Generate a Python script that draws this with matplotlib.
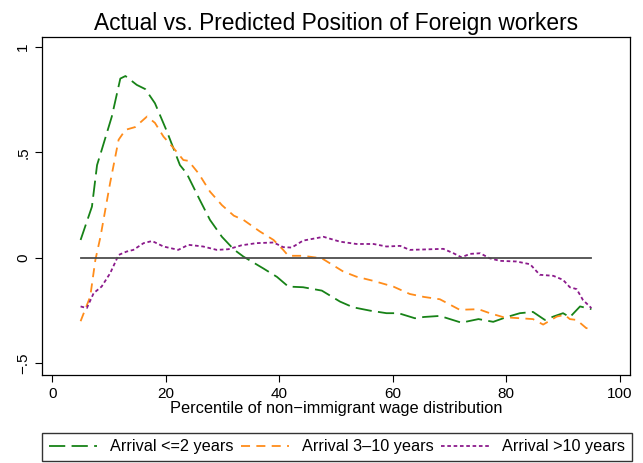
import matplotlib
matplotlib.use("Agg")
import matplotlib.pyplot as plt

plt.rcParams['font.family'] = ['Liberation Sans', 'DejaVu Sans']

# Arrival <=2 years
x_new = [5, 7, 7.9, 8.7, 10.5, 12, 12.9, 14.9, 16.4, 18.1, 20.2, 22.5, 23.7, 26, 27.8, 29.9,
         32, 33.7, 37.2, 39.6, 41.6, 44.2, 47.5, 50.7, 53, 56, 58.9, 61, 63.9, 65.5,
         68.3, 72.1, 75.1, 77.7, 80, 82.4, 84.7, 86.8, 88.3, 90, 91.2, 93, 95]
y_new = [0.085, 0.243, 0.44, 0.51, 0.67, 0.85, 0.862, 0.82, 0.80, 0.733, 0.60, 0.44, 0.40, 0.275, 0.18, 0.10,
         0.04, 0.006, -0.05, -0.09, -0.136, -0.139, -0.155, -0.207, -0.234, -0.25, -0.262, -0.262, -0.286, -0.28,
         -0.275, -0.307, -0.29, -0.303, -0.281, -0.262, -0.256, -0.294, -0.278, -0.262, -0.281, -0.23, -0.243]

# Arrival 3-10 years
x_mid = [5, 6.7, 7.6, 8.5, 10.2, 11.7, 12.9, 14.6, 16.7, 18.1, 19.6, 21.4, 23.1, 24, 25.8, 27.8, 29.9,
         32, 33.7, 36.6, 39, 40.7, 41.6, 44.2, 47.5, 48.9, 51.3, 53.6, 56.6, 60.1, 63, 65.5,
         68.3, 71.8, 75.1, 77.1, 79.5, 82.4, 84.7, 86.5, 88.9, 90.3, 91.2, 92.4, 94.1, 95]
y_mid = [-0.30, -0.183, -0.01, 0.10, 0.355, 0.56, 0.607, 0.62, 0.67, 0.64, 0.575, 0.52, 0.464, 0.46, 0.40, 0.314, 0.25,
         0.2, 0.18, 0.125, 0.085, 0.038, 0.01, 0.01, -0.002, -0.025, -0.065, -0.089, -0.109, -0.136, -0.171, -0.185,
         -0.196, -0.246, -0.243, -0.262, -0.281, -0.286, -0.29, -0.316, -0.278, -0.27, -0.29, -0.294, -0.333, -0.333]

# Arrival >10 years
x_old = [5, 6.1, 7.3, 8.7, 10.2, 11.7, 13.1, 14.3, 16.1, 17.6, 19.6, 22.2, 24, 26.6, 29, 31,
         33.4, 36, 39, 40.7, 42.2, 44.2, 47.8, 50.7, 53.6, 56.6, 58.9, 61.3, 63, 65.5,
         68.9, 70.7, 72.1, 73.6, 75.4, 77.1, 78.9, 81.8, 84.2, 85.9, 88.3, 90, 91.2, 92.4, 93.5, 95]
y_old = [-0.23, -0.238, -0.167, -0.136, -0.073, 0.014, 0.03, 0.038, 0.07, 0.08, 0.054, 0.038, 0.062, 0.054, 0.038, 0.041,
         0.06, 0.07, 0.073, 0.051, 0.049, 0.082, 0.10, 0.077, 0.066, 0.066, 0.054, 0.057, 0.038, 0.04,
         0.043, 0.022, 0.003, 0.019, 0.022, -0.002, -0.014, -0.017, -0.03, -0.08, -0.085, -0.104, -0.139, -0.148, -0.199, -0.238]

x_ticks = [0, 20, 40, 60, 80, 100]
y_ticks = [-0.5, 0, 0.5, 1]
y_tick_labels = ['\u2212.5', '0', '.5', '1']

fig = plt.figure(figsize=(6.43, 4.63), dpi=100)
ax = fig.add_axes([42 / 643, 1 - 375 / 463, 588 / 643, 338 / 463])

ax.plot(x_new, y_new, color='#178217', linewidth=1.3, dashes=(9, 3.5), label='Arrival <=2 years')
ax.plot(x_mid, y_mid, color='#ff8c1a', linewidth=1.3, dashes=(5, 3.5), label='Arrival 3\u201310 years')
ax.plot(x_old, y_old, color='#8b1a8b', linewidth=1.3, dashes=(2, 1.5), label='Arrival >10 years')
ax.plot([5, 95], [0, 0], color='#4d4d4d', linewidth=1.3)

ax.set_xlim(-1.8, 101.8)
ax.set_ylim(-0.555, 1.047)
ax.set_xticks(x_ticks)
ax.set_yticks(y_ticks)
ax.set_yticklabels(y_tick_labels, rotation=90, va='center')
ax.tick_params(labelsize=11, length=5, color='black')
ax.set_xlabel('Percentile of non\u2212immigrant wage distribution', fontsize=11.8, labelpad=0)
ax.set_title('Actual vs. Predicted Position of Foreign workers', fontsize=16.4, pad=5)
for s in ax.spines.values():
    s.set_linewidth(0.9)

fig.legend(loc='lower left', bbox_to_anchor=(42 / 643, 2 / 463, 590 / 643, 33 / 463),
           ncol=3, mode='expand', fontsize=11.7, frameon=True, fancybox=False,
           edgecolor='black', handlelength=3, borderaxespad=0)

fig.savefig('out.png', dpi=100)
